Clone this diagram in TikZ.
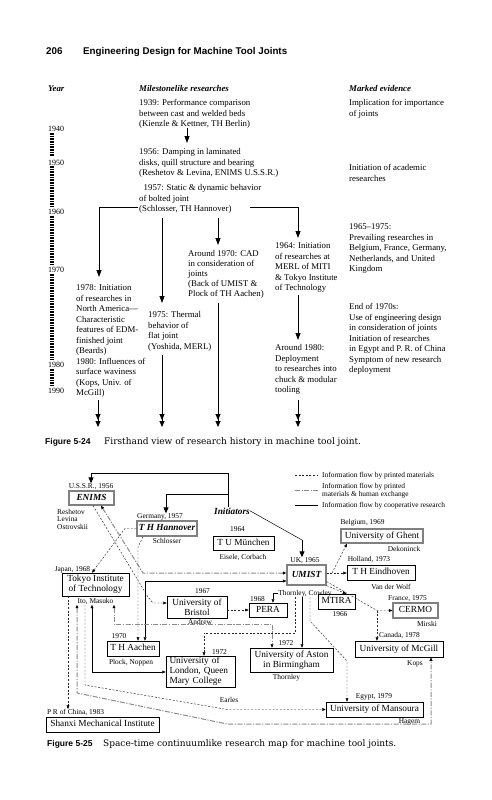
\documentclass[tikz,border=0pt]{standalone}
\usepackage{fontspec}
\setmainfont{Liberation Serif}
\setsansfont{Liberation Sans}
\newfontfamily\capfont{DejaVu Serif}
\usetikzlibrary{arrows.meta,calc}
\newcommand\fsz[2]{\fontsize{#1}{#2}\selectfont}
\begin{document}
\begin{tikzpicture}[x=1pt,y=-1pt,
 txt/.style={anchor=north west,inner sep=0pt,align=left,font=\fsz{8.8}{10.5}},
 hd/.style={anchor=base west,inner sep=0pt,font=\fsz{8.8}{10.5}\bfseries\itshape},
 yr/.style={anchor=base west,inner sep=0pt,font=\fsz{8}{10}},
 tarr/.style={line width=0.8pt,-{Triangle[length=7pt,width=5pt]}},
 darr/.style={line width=0.8pt,-{Triangle[length=6pt,width=5pt,sep=1pt]Triangle[length=6pt,width=5pt]}},
 tline/.style={line width=0.8pt},
 lbl/.style={anchor=base,inner sep=0pt,font=\fsz{7.4}{7.6}},
 box/.style={draw,line width=0.5pt,inner sep=0pt,font=\fsz{9.3}{10.2},align=center},
 sbox/.style={box,text height=6.6pt,text depth=1.9pt},
 ibox/.style={sbox,draw=black!50,line width=1.2pt,font=\fsz{9.3}{10.2}\bfseries\itshape},
 pm/.style={draw,black!85,line width=0.45pt,dash pattern=on 2pt off 1.6pt},
 hx/.style={draw,black!45,line width=1pt,dash pattern=on 5pt off 1.5pt on 1.2pt off 1.5pt},
 co/.style={draw,line width=0.45pt},
 sa/.style={-{Triangle[length=3.5pt,width=2.8pt,color=black]}},
 sb/.style={{Triangle[length=3.5pt,width=2.8pt,color=black]}-{Triangle[length=3.5pt,width=2.8pt,color=black]}},
 iarr/.style={line width=1pt,-{Triangle[length=6pt,width=5pt]}},
]
\fill[white] (0,0) rectangle (491,800);
\useasboundingbox (0,0) rectangle (491,800);

% header
\node[anchor=base west,inner sep=0pt,font=\fsz{9.8}{11}\sffamily\bfseries] (pg) at (46,54.5) {206};
\node[anchor=base west,inner sep=0pt,font=\fsz{9.8}{11}\sffamily\bfseries] (ttl) at (83,54.5) {Engineering Design for Machine Tool Joints};

% column heads
\node[hd] (hyear) at (48,91) {Year};
\node[hd] (hmile) at (139,91) {Milestonelike researches};
\node[hd] (hmark) at (349,91) {Marked evidence};

% year scale
\node[yr] (y40) at (48,131) {1940};
\node[yr] (y50) at (48,165) {1950};
\node[yr] (y60) at (48,214) {1960};
\node[yr] (y70) at (48,272) {1970};
\node[yr] (y80) at (48,367) {1980};
\node[yr] (y90) at (48,393) {1990};
\foreach \a/\b in {133/157,166/207,216/265,274/360,369/386}{
  \pgfmathsetmacro\c{\a+1.6}
  \foreach \y in {\a,\c,...,\b} \draw[line width=0.55pt] (49.5,\y) -- (53.5,\y);
}

% milestones
\node[txt] (m39) at (139,99.5) {1939: Performance comparison\\between cast and welded beds\\(Kienzle \& Kettner, TH Berlin)};
\node[txt] (m56) at (139,148.5) {1956: Damping in laminated\\disks, quill structure and bearing\\(Reshetov \& Levina, ENIMS U.S.S.R.)};
\node[txt] (m57) at (139,184.5) {\hspace*{4.5pt}1957: Static \& dynamic behavior\\of bolted joint\\(Schlosser, TH Hannover)};
\node[txt,font=\fsz{8.8}{10}] (m70) at (188,250.5) {Around 1970: CAD\\in consideration of\\joints\\(Back of UMIST \&\\Plock of TH Aachen)};
\node[txt] (m78) at (76,284.5) {1978: Initiation\\of researches in\\North America---\\Characteristic\\features of EDM-\\finished joint\\(Beards)\\1980: Influences of\\surface waviness\\(Kops, Univ. of\\McGill)};
\node[txt] (m75) at (148,311.5) {1975: Thermal\\behavior of\\flat joint\\(Yoshida, MERL)};
\node[txt] (m64) at (275,242.5) {1964: Initiation\\of researches at\\MERL of MITI\\\& Tokyo Institute\\of Technology};
\node[txt] (m80) at (275,344.5) {Around 1980:\\Deployment\\to researches into\\chuck \& modular\\tooling};

% evidence
\node[txt] (e1) at (349,99.5) {Implication for importance\\of joints};
\node[txt] (e2) at (349,164.5) {Initiation of academic\\researches};
\node[txt] (e3) at (349,223.5) {1965--1975:\\Prevailing researches in\\Belgium, France, Germany,\\Netherlands, and United\\Kingdom};
\node[txt] (e4) at (349,303.5) {End of 1970s:\\Use of engineering design\\in consideration of joints\\Initiation of researches\\in Egypt and P. R. of China\\Symptom of new research\\deployment};

% top arrows
\coordinate (p1) at (187,128); \coordinate (p2) at (187,143);
\draw[tarr] (p1) -- (p2);
\coordinate (q1) at (138,207); \coordinate (q2) at (99,207); \coordinate (q3) at (99,277);
\draw[tarr] (q1) -- (q2) -- (q3);
\coordinate (r1) at (250,207); \coordinate (r2) at (298,207); \coordinate (r3) at (298,238);
\draw[tarr] (r1) -- (r2) -- (r3);
\coordinate (s1) at (162,218); \coordinate (s2) at (162,303);
\draw[tarr] (s1) -- (s2);
\coordinate (t1) at (218,218); \coordinate (t2) at (218,245);
\draw[tarr] (t1) -- (t2);
\coordinate (t3) at (218,303); \coordinate (t4) at (218,427);
\draw[darr] (t3) -- (t4);
\coordinate (s3) at (162,355); \coordinate (s4) at (162,427);
\draw[darr] (s3) -- (s4);
\coordinate (q4) at (98,400); \coordinate (q5) at (98,427);
\draw[darr] (q4) -- (q5);
\coordinate (r4) at (298,295); \coordinate (r5) at (298,340);
\draw[tarr] (r4) -- (r5);
\coordinate (r6) at (298,400); \coordinate (r7) at (298,427);
\draw[darr] (r6) -- (r7);

% caption 5-24
\node[anchor=base west,inner sep=0pt,font=\fsz{8.5}{10}\sffamily\bfseries] (f24) at (45,444) {Figure 5-24};
\node[anchor=base west,inner sep=0pt,font=\capfont\fsz{9}{11}] (c24) at (104,444) {Firsthand view of research history in machine tool joint.};

% ===== lower figure =====
% legend
\coordinate (lg1a) at (295,475); \coordinate (lg1b) at (318,475);
\coordinate (lg2a) at (295,490); \coordinate (lg2b) at (318,490);
\coordinate (lg3a) at (295,505); \coordinate (lg3b) at (318,505);
\draw[pm] (lg1a) -- (lg1b);
\draw[hx] (lg2a) -- (lg2b);
\draw[co] (lg3a) -- (lg3b);
\node[anchor=base west,inner sep=0pt,font=\fsz{7.4}{7.6}] (lt1) at (322,477.4) {Information flow by printed materials};
\node[anchor=north west,inner sep=0pt,align=left,font=\fsz{7.4}{8.2}] (lt2) at (322,482.6) {Information flow by printed\\materials \& human exchange};
\node[anchor=base west,inner sep=0pt,font=\fsz{7.4}{7.6}] (lt3) at (322,507.4) {Information flow by cooperative research};

% boxes
\node[ibox,minimum width=45pt,minimum height=14pt] (enims) at (91.5,498) {ENIMS};
\node[ibox,minimum width=60pt,minimum height=15pt] (hann) at (167,528.5) {T H Hannover};
\node[sbox,minimum width=61pt,minimum height=14pt] (tum) at (243.5,543) {T U München};
\node[box,minimum width=67pt,minimum height=23pt] (tokyo) at (95.5,584.5) {Tokyo Institute\\of Technology};
\node[box,minimum width=60pt,minimum height=22pt] (bristol) at (197,607) {University of\\Bristol};
\node[sbox,minimum width=38pt,minimum height=14pt] (pera) at (268,610) {PERA};
\node[ibox,minimum width=39pt,minimum height=20pt] (umist) at (306.5,575) {UMIST};
\node[ibox,minimum width=82pt,minimum height=14pt] (ghent) at (382,536) {\mdseries\upshape University of Ghent};
\node[sbox,minimum width=68pt,minimum height=15pt] (eind) at (381,572.5) {T H Eindhoven};
\node[sbox,minimum width=37pt,minimum height=15pt] (mtira) at (336.5,601.5) {MTIRA};
\node[ibox,minimum width=45pt,minimum height=15pt] (cermo) at (415.5,610.5) {\mdseries\upshape CERMO};
\node[sbox,minimum width=88pt,minimum height=16pt] (mcgill) at (399,649) {University of McGill};
\node[box,minimum width=83pt,minimum height=24pt] (aston) at (291.5,660) {University of Aston\\in Birmingham};
\node[sbox,minimum width=52pt,minimum height=15pt] (aachen) at (133,648.5) {T H Aachen};
\node[box,align=left,minimum width=69pt,minimum height=31pt,text width=62pt] (qmc) at (200.5,671.5) {University of\\London, Queen\\Mary College};
\node[sbox,minimum width=97pt,minimum height=15pt] (mansoura) at (374.5,709.5) {University of Mansoura};
\node[sbox,minimum width=113pt,minimum height=15pt] (shanxi) at (102.5,724.5) {Shanxi Mechanical Institute};

% labels
\node[lbl] (ussr) at (91,488.4) {U.S.S.R., 1956};
\node[anchor=north west,inner sep=0pt,align=left,font=\fsz{7.4}{7.6}] (resh) at (57,508.8) {Reshetov\\Levina\\Ostrovskii};
\node[lbl] (ger) at (160,518.4) {Germany, 1957};
\node[lbl] (schl) at (167,543.4) {Schlosser};
\node[lbl] (y64) at (237.5,531.9) {1964};
\node[lbl] (eis) at (243,559.4) {Eisele, Corbach};
\node[lbl] (jap) at (72.5,571.4) {Japan, 1968};
\node[lbl] (ito) at (95.5,603.4) {Ito, Masuko};
\node[lbl] (y67) at (202.5,593.4) {1967};
\node[lbl] (andr) at (200,624.4) {Andrew};
\node[lbl] (y68) at (257.5,601.4) {1968};
\node[lbl] (uk) at (305,562.4) {UK, 1965};
\node[lbl] (cowley) at (305,595.4) {Thornley, Cowley};
\node[lbl] (bel) at (362.5,524.4) {Belgium, 1969};
\node[lbl] (dek) at (404,551.4) {Dekoninck};
\node[lbl] (hol) at (369,561.4) {Holland, 1973};
\node[lbl] (vdw) at (391,589.4) {Van der Wolf};
\node[lbl] (y66) at (340,616.4) {1966};
\node[lbl] (fra) at (407.5,600.4) {France, 1975};
\node[lbl] (mir) at (427,626.4) {Mirski};
\node[lbl] (can) at (399.5,637.4) {Canada, 1978};
\node[lbl] (kops) at (415,665.4) {Kops};
\node[lbl] (y72a) at (286,645.4) {1972};
\node[lbl] (thor) at (286.5,679.4) {Thornley};
\node[lbl] (y70b) at (119,638.4) {1970};
\node[lbl] (plock) at (131,664.4) {Plock, Noppen};
\node[lbl] (y72b) at (219.5,654.4) {1972};
\node[lbl] (earl) at (229,702.4) {Earles};
\node[lbl] (egy) at (374,698.4) {Egypt, 1979};
\node[lbl] (hag) at (409.5,723.4) {Hagem};
\node[lbl] (china) at (75.5,714.4) {P R of China, 1983};
\node[anchor=base,inner sep=0pt,font=\fsz{9.3}{10}\bfseries\itshape] (init) at (232,514) {Initiators};

% initiators
\coordinate (iA) at (228,473); \coordinate (iB) at (91,473);
\coordinate (iC) at (228,494); \coordinate (iD) at (166,494);
\coordinate (iE) at (302,540);
\draw[line width=0.5pt] (iA |- init.north) -- (iA) -- (iB);
\draw[line width=0.5pt] (iC) -- (iD);
\draw[iarr] (iB) -- (ussr.north);
\draw[iarr] (iD) -- (iD |- ger.north);
\draw[line width=0.5pt] (init.east) -- (iE);
\draw[iarr] (iE) -- (iE |- uk.north);

% connectors
\coordinate (k1) at (143,573);
\draw[hx,sb] ([xshift=9.5pt]enims.south) -- (k1) -- (k1 -| umist.west);
\coordinate (k2) at (148,597); \coordinate (k3) at (153,603);
\draw[pm,sa] ([xshift=1.5pt]enims.south) -- (k2) -- (k3) -- (k3 -| bristol.west);
\coordinate (k4) at (125,528.5);
\draw[pm,sa] (hann.west) -- (k4) -- ([xshift=-3.5pt]tokyo.north);
\coordinate (k5) at (138,547);
\draw[pm,sa] ([xshift=-24pt]hann.south) -- (k5) -- (k5 |- aachen.north);
\coordinate (k6) at (145,581);
\draw[co,sb] (k6 -| umist.west) -- (k6) -- (k6 |- aachen.north);
\coordinate (k7) at (273,593);
\draw[co,sa] (cowley.west |- k7) -- (k7) -- (k7 |- pera.north);
\draw[pm,sa] (bristol.east |- pera.west) -- (pera.west);
\coordinate (k9) at (114,624); \coordinate (k10) at (272,624);
\draw[hx,sb] (k9 |- ito.south) -- (k9) -- (k10) -- (k10 |- aston.north);
\coordinate (k11) at (295,633); \coordinate (k12) at (204,633);
\draw[pm,sa] (k11 |- cowley.south) -- (k11) -- (k12) -- (k12 |- qmc.north);
\coordinate (k23) at (302,600);
\draw[co,sa] (k23 |- cowley.south) -- (k23 |- aston.north);
\coordinate (k13) at (310,621); \coordinate (k14) at (347,661);
\draw[pm,sa] (k13 |- cowley.south) -- (k13) -- (k14) -- (k14 |- mansoura.north);
\coordinate (k15) at (332,573);
\draw[pm,sa] (umist.east |- k15) -- (k15 -| eind.west);
\draw[pm,sa] (k15) -- ([xshift=-35pt]ghent.south);
\draw[pm,sa] (umist.south east) -- ([xshift=-9pt]mtira.north east);
\coordinate (k16) at (377,610.5);
\draw[pm,sa] ([yshift=4pt]umist.south east) -- (k16) -- (k16 -| cermo.west);
\draw[pm,sa] (k16) -- (k16 |- mcgill.north);
\coordinate (k17) at (77,693); \coordinate (k18) at (227,724); \coordinate (k19) at (431,724);
\draw[hx,sb] (k17 |- ito.south) -- (k17) -- (k18) -- (k19) -- (k19 |- mcgill.south);
\coordinate (k20) at (85,685); \coordinate (k21) at (227,709.5);
\draw[pm,sa] (k20 |- ito.south) -- (k20) -- (k21) -- (k21 -| mansoura.west);
\coordinate (k22) at (92,672);
\draw[co,sb] (k22 |- ito.south) -- (k22) -- (k22 -| qmc.west);
\coordinate (k24) at (68,600);
\draw[pm,sa] (k24 |- tokyo.south) -- (k24 |- china.north);

% caption 5-25
\node[anchor=base west,inner sep=0pt,font=\fsz{8.5}{10}\sffamily\bfseries] (f25) at (47,746) {Figure 5-25};
\node[anchor=base west,inner sep=0pt,font=\capfont\fsz{9}{11}] (c25) at (103,746) {Space-time continuumlike research map for machine tool joints.};
\end{tikzpicture}
\end{document}
